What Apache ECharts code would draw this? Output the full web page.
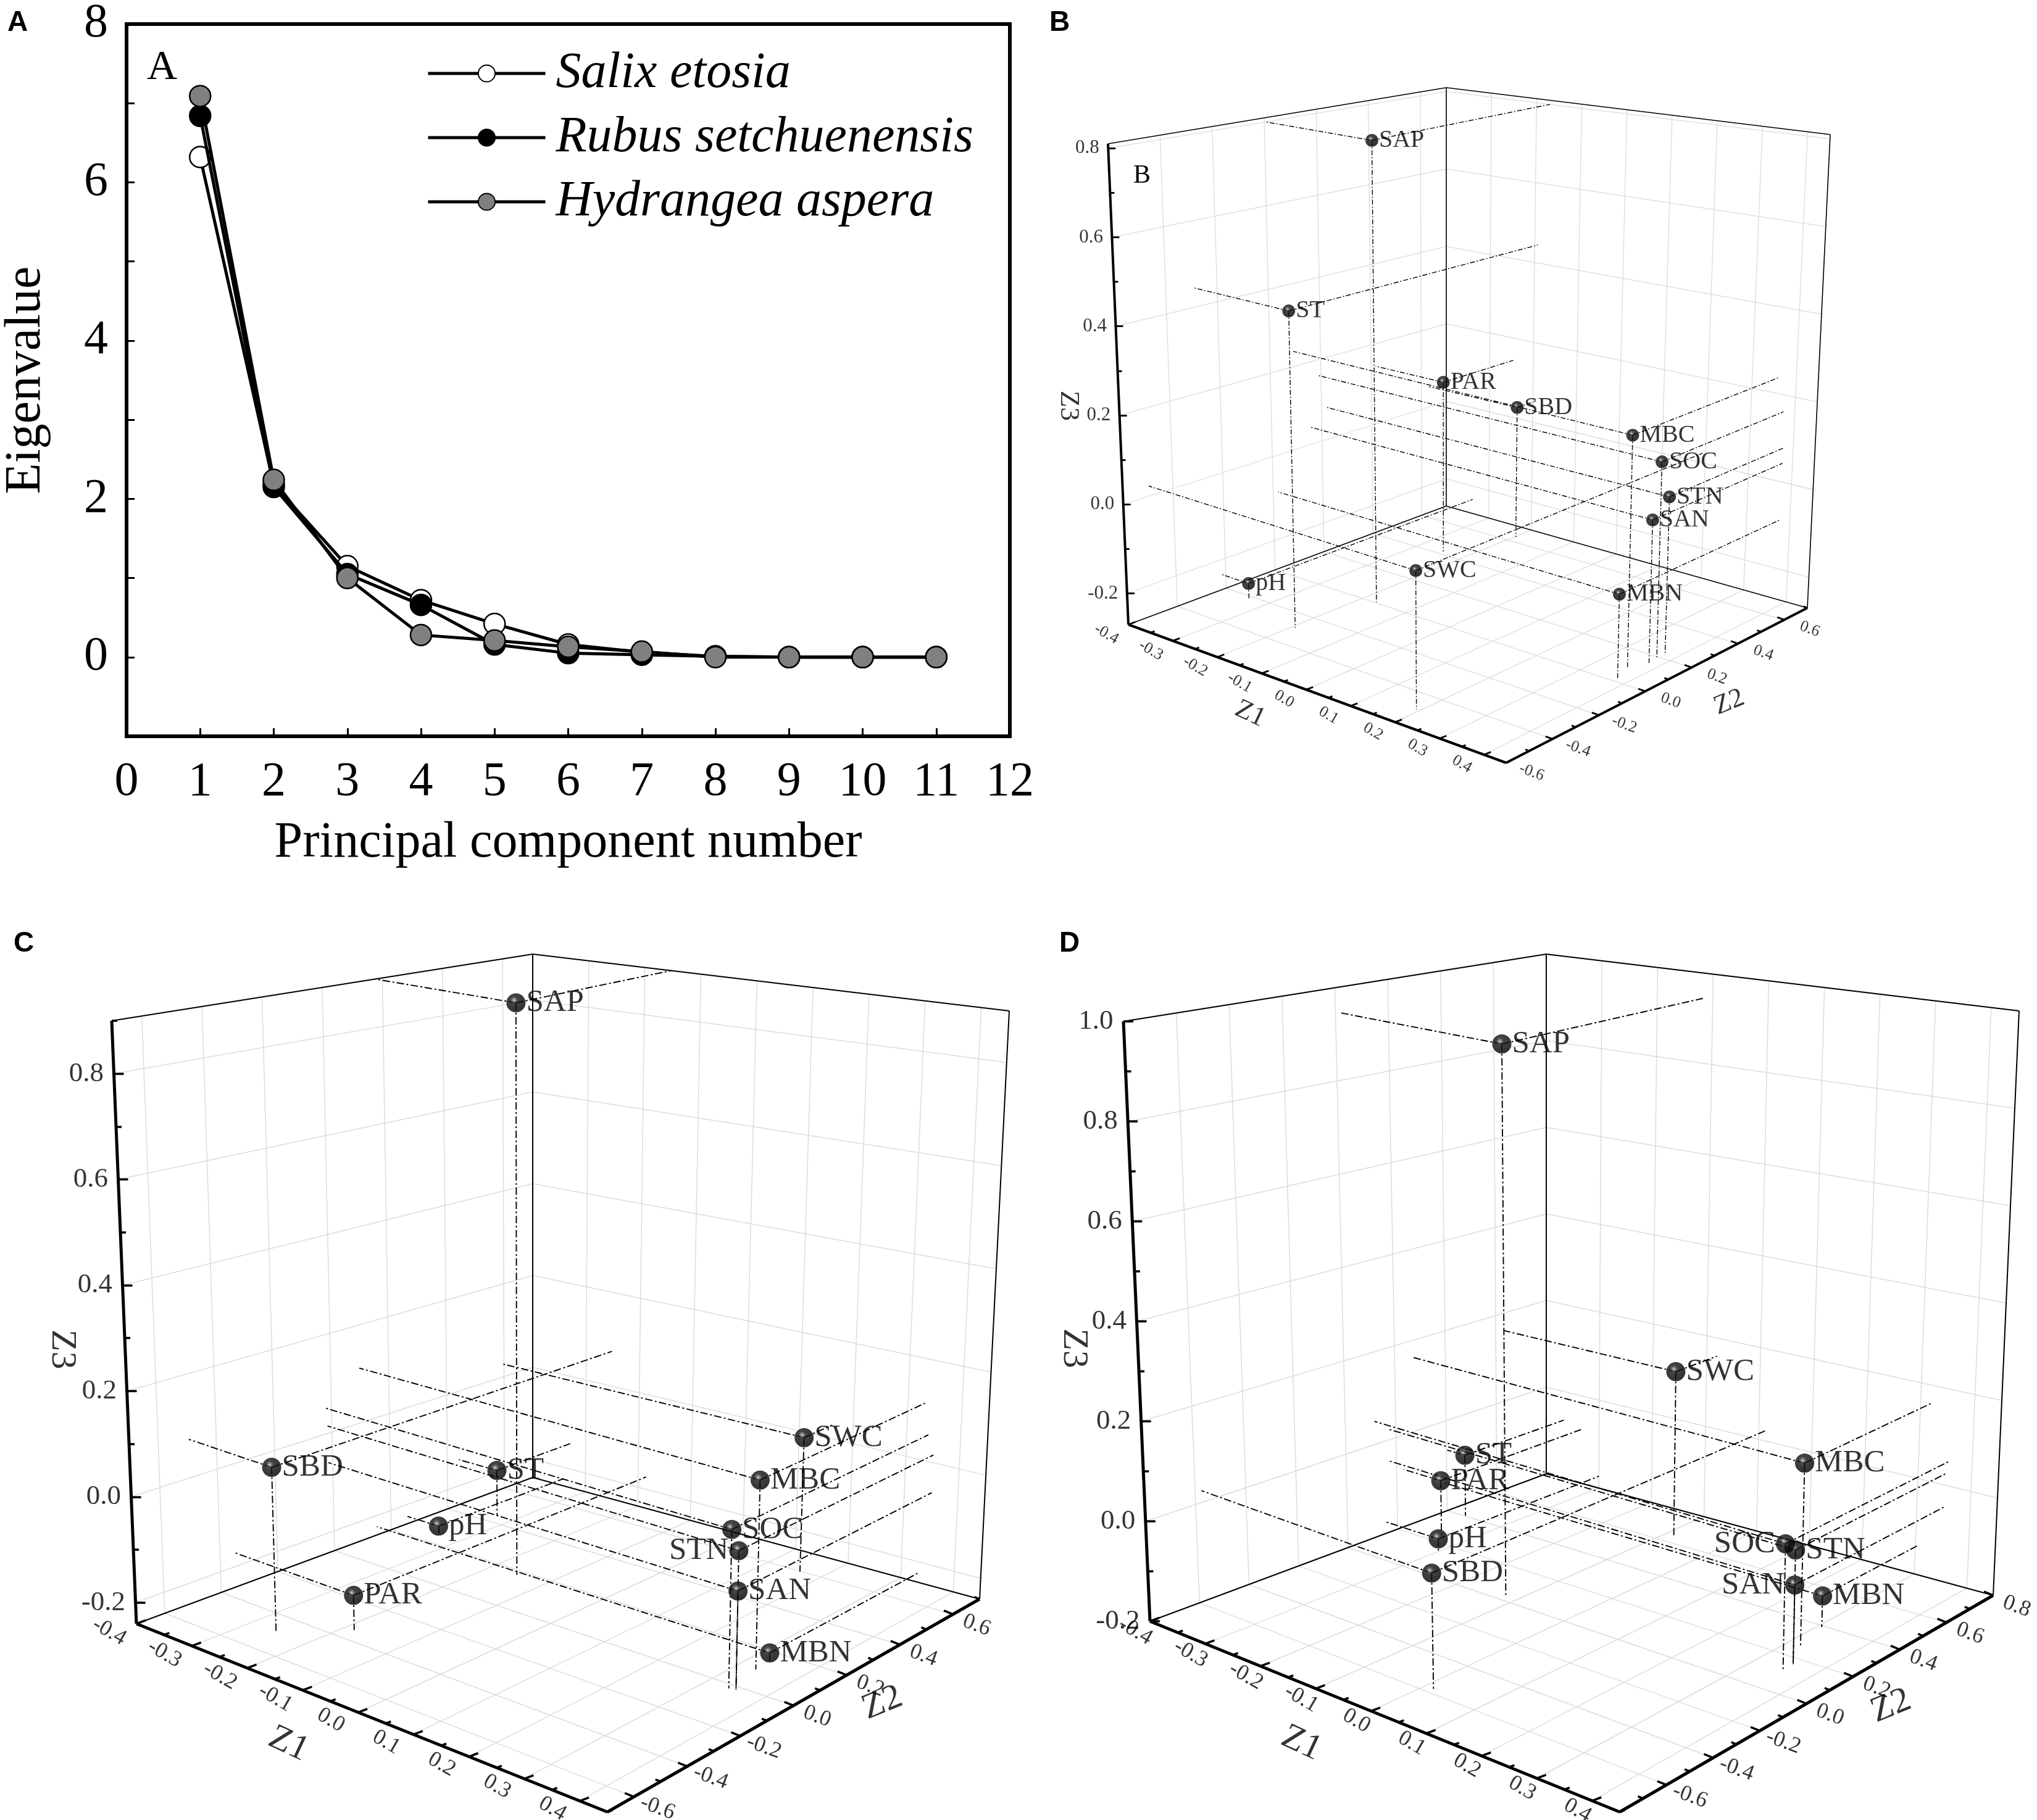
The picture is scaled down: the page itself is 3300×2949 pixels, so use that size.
<!DOCTYPE html>
<html><head><meta charset="utf-8">
<script src="https://cdn.jsdelivr.net/npm/echarts@6/dist/echarts.min.js"></script>
<style>html,body{margin:0;padding:0;background:#fff}#c{width:3300px;height:2949px}</style>
</head><body><div id="c"></div><script>
// ---------------- Panel A data ----------------
const pcNumbers = [1,2,3,4,5,6,7,8,9,10,11];
const salixEigen = [6.32, 2.18, 1.15, 0.72, 0.42, 0.16, 0.06, 0.01, 0, 0, 0];
const rubusEigen = [6.84, 2.15, 1.05, 0.66, 0.16, 0.05, 0.03, 0.01, 0, 0, 0];
const hydrangeaEigen = [7.09, 2.24, 1.00, 0.28, 0.21, 0.13, 0.07, 0.00, 0, 0, 0];
const speciesNames = ['Salix etosia','Rubus setchuenensis','Hydrangea aspera'];
const yTickLabels = ['0','2','4','6','8'];

// ---------------- Panels B-D data (loadings on Z1, Z2, Z3) ----------------
const variables = ['SAP','ST','PAR','SBD','MBC','SOC','STN','SAN','MBN','SWC','pH'];
const bZ1 = [-0.170,-0.193,-0.246,-0.197, 0.360, 0.374, 0.377, 0.377, 0.376, 0.193,-0.338];
const bZ2 = [ 0.005,-0.290, 0.418, 0.631, 0.092, 0.192, 0.222, 0.153, 0.020,-0.496,-0.218];
const bZ3 = [ 0.800, 0.445, 0.144, 0.052, 0.237, 0.161, 0.078, 0.043,-0.088, 0.023,-0.234];
const cZ1 = [-0.153,-0.329,-0.185,-0.252, 0.331, 0.340, 0.351, 0.351, 0.331, 0.161,-0.342];
const cZ2 = [ 0.176, 0.441,-0.346,-0.494, 0.099,-0.020,-0.015,-0.015, 0.150, 0.598, 0.258];
const cZ3 = [ 0.900,-0.145,-0.174, 0.074, 0.112, 0.052, 0.015,-0.059,-0.223, 0.027,-0.225];
const dZ1 = [-0.117,-0.367,-0.331, 0.015, 0.322, 0.356, 0.353, 0.353, 0.307,-0.081,-0.300];
const dZ2 = [ 0.021, 0.403, 0.228,-0.575, 0.268, 0.116, 0.166, 0.166, 0.392, 0.634, 0.148];
const dZ3 = [ 0.944,-0.066,-0.075, 0.024, 0.164, 0.050, 0.025,-0.044,-0.137, 0.160,-0.173];

const SERIF = '"Liberation Serif","Times New Roman",serif';
const SANS = '"Liberation Sans",Arial,sans-serif';

// ---------------- 3D box layouts (axis geometry, not data) ----------------
const panels3D = [
  { key:'B', z1:bZ1, z2:bZ2, z3:bZ3,
    range:{z1:[-0.4,0.45], z2:[-0.6,0.7], z3:[-0.27,0.81]},
    corners:{L:[1828,1012],F:[2440,1236],R:[2928,985],B:[2343,820],LT:[1795,233],FT:[2445,373],BT:[2343,142],RT:[2965,218]},
    leftLabels:[],
    st:{edgeW:1.6,axisW:4,gridW:1.3,dropW:1.4,dash:[8,3,2,3],tickMaj:12,tickMin:7,tickFont:31,floorFont:26,titleFont:44,
        ptSize:21,ptFont:40,z1Lab:[41,3],z2Lab:[44,0],z3LabDist:14,z2Title:[1.176,0.525],z3TitleDx:82}},
  { key:'C', z1:cZ1, z2:cZ2, z3:cZ3,
    range:{z1:[-0.4,0.45], z2:[-0.7,0.7], z3:[-0.24,0.9]},
    corners:{L:[221,2631],F:[984,2936],R:[1587,2591],B:[863,2394],LT:[181,1654],FT:[988,1854],BT:[863,1546],RT:[1635,1638]},
    leftLabels:['STN'],
    st:{edgeW:2,axisW:5,gridW:1.5,dropW:1.9,dash:[12,4,3,4],tickMaj:16,tickMin:9,tickFont:45,floorFont:36,titleFont:58,
        ptSize:31,ptFont:51,z1Lab:[42,-5],z2Lab:[44,-3],z3LabDist:16,z2Title:[1.118,0.594],z3TitleDx:103}},
  { key:'D', z1:dZ1, z2:dZ2, z3:dZ3,
    range:{z1:[-0.4,0.45], z2:[-0.8,0.8], z3:[-0.2,1.0]},
    corners:{L:[1863,2627],F:[2624,2936],R:[3229,2585],B:[2505,2388],LT:[1820,1655],FT:[2624,1858],BT:[2505,1546],RT:[3271,1638]},
    leftLabels:['SOC','SAN'],
    st:{edgeW:2,axisW:5,gridW:1.5,dropW:1.9,dash:[12,4,3,4],tickMaj:16,tickMin:9,tickFont:45,floorFont:36,titleFont:58,
        ptSize:31,ptFont:51,z1Lab:[35,10],z2Lab:[44,-3],z3LabDist:16,z2Title:[1.124,0.575],z3TitleDx:104}}
];

function tickVals(min,max,step){const out=[];for(let k=Math.ceil(min/step-1e-6);k*step<=max+1e-9;k++){out.push(Math.round(k*step*1000)/1000);}return out;}
function isMul(v,s){return Math.abs(v/s-Math.round(v/s))<1e-6;}
function fmt(v){if(Math.abs(v)<1e-9)v=0;return v.toFixed(1);}

function linesSeries(segs,color,width,type,z){
  return {type:'lines',coordinateSystem:'cartesian2d',xAxisIndex:1,yAxisIndex:1,silent:true,z:z,polyline:false,
    lineStyle:{color:color,width:width,type:type||'solid',opacity:1},data:segs.map(s=>({coords:s}))};
}
function textSeries(items,label,z){
  return {type:'scatter',xAxisIndex:1,yAxisIndex:1,silent:true,symbol:'circle',symbolSize:1,z:z||6,
    itemStyle:{color:'rgba(0,0,0,0)'},
    label:Object.assign({show:true,formatter:'{b}',color:'#000',fontFamily:SERIF},label),
    data:items.map(t=>({name:t.text,value:t.pos}))};
}

function build3D(pn){
  const c=pn.corners,r=pn.range,st=pn.st;
  const bil=(a,b,cc,d,u,v)=>[0,1].map(i=>a[i]*(1-u)*(1-v)+b[i]*u*(1-v)+cc[i]*(1-u)*v+d[i]*u*v);
  const P=(u,v,w)=>{const f=bil(c.L,c.F,c.B,c.R,u,v),t=bil(c.LT,c.FT,c.BT,c.RT,u,v);return [f[0]+(t[0]-f[0])*w,f[1]+(t[1]-f[1])*w];};
  const nu=x=>(x-r.z1[0])/(r.z1[1]-r.z1[0]), nv=x=>(x-r.z2[0])/(r.z2[1]-r.z2[0]), nw=x=>(x-r.z3[0])/(r.z3[1]-r.z3[0]);
  const unit=(a,b)=>{const dx=b[0]-a[0],dy=b[1]-a[1],l=Math.hypot(dx,dy);return [dx/l,dy/l];};
  const eu=unit(c.L,c.F), ev=unit(c.L,c.B), e2=unit(c.F,c.R);
  const add=(p,d,k)=>[p[0]+d[0]*k,p[1]+d[1]*k];
  const grid=[],edges=[],axes=[],ticks=[],drops=[];
  const z1t=tickVals(r.z1[0],r.z1[1],0.05), z2t=tickVals(r.z2[0],r.z2[1],0.1), z3t=tickVals(r.z3[0],r.z3[1],0.1);
  z2t.filter(z=>isMul(z,0.2)).forEach(z=>{const v=nv(z);grid.push([P(0,v,0),P(0,v,1)]);grid.push([P(0,v,0),P(1,v,0)]);});
  z3t.filter(z=>isMul(z,0.2)).forEach(z=>{const w=nw(z);grid.push([P(0,0,w),P(0,1,w)]);grid.push([P(0,1,w),P(1,1,w)]);});
  z1t.filter(z=>isMul(z,0.1)).forEach(z=>{const u=nu(z);grid.push([P(u,1,0),P(u,1,1)]);grid.push([P(u,0,0),P(u,1,0)]);});
  edges.push([P(0,1,0),P(0,1,1)],[P(0,0,1),P(0,1,1)],[P(0,1,1),P(1,1,1)],[P(1,1,0),P(1,1,1)],[P(0,1,0),P(0,0,0)],[P(0,1,0),P(1,1,0)]);
  axes.push([P(0,0,0),P(0,0,1)],[P(0,0,0),P(1,0,0)],[P(1,0,0),P(1,1,0)]);
  const z3L=[],z1L=[],z2L=[];
  z3t.forEach(z=>{const p=P(0,0,nw(z)),maj=isMul(z,0.2);ticks.push([p,[p[0]+(maj?st.tickMaj:st.tickMin),p[1]]]);if(maj)z3L.push({text:fmt(z),pos:p});});
  z1t.forEach(z=>{const p=P(nu(z),0,0),maj=isMul(z,0.1);ticks.push([p,add(p,ev,maj?st.tickMaj:st.tickMin)]);
    if(maj)z1L.push({text:fmt(z),pos:add(add(p,ev,-st.z1Lab[0]),eu,st.z1Lab[1])});});
  z2t.forEach(z=>{const p=P(1,nv(z),0),maj=isMul(z,0.2);ticks.push([p,add(p,eu,-(maj?st.tickMaj:st.tickMin))]);
    if(maj)z2L.push({text:fmt(z),pos:add(add(p,eu,st.z2Lab[0]),e2,st.z2Lab[1])});});
  const pts=variables.map((name,i)=>{const u=nu(pn.z1[i]),v=nv(pn.z2[i]),w=nw(pn.z3[i]);return {name,u,v,w,p:P(u,v,w)};});
  pts.forEach(q=>{drops.push([q.p,P(q.u,q.v,0)]);drops.push([q.p,P(0,q.v,q.w)]);drops.push([q.p,P(q.u,1,q.w)]);});
  const sorted=pts.slice().sort((a,b)=>(a.u-a.v)-(b.u-b.v));
  const sphere=new echarts.graphic.RadialGradient(0.4,0.36,0.6,[{offset:0,color:'#eeeeee'},{offset:0.1,color:'#777'},{offset:0.32,color:'#151515'},{offset:1,color:'#000'}]);
  const series=[
    linesSeries(grid,'#dcdcdc',st.gridW,'solid',1),
    linesSeries(edges,'#000',st.edgeW,'solid',2),
    linesSeries(axes,'#000',st.axisW,'solid',3),
    linesSeries(ticks,'#000',st.axisW*0.7,'solid',3),
    linesSeries(drops,'#000',st.dropW,st.dash,4),
    textSeries(z3L,{position:'left',distance:st.z3LabDist,fontSize:st.tickFont}),
    textSeries(z1L,{position:'inside',rotate:-30,fontSize:st.floorFont}),
    textSeries(z2L,{position:'inside',rotate:-20,fontSize:st.floorFont}),
    textSeries([{text:'Z1',pos:P(0.47,-0.18,0)}],{position:'inside',rotate:-25,fontSize:st.titleFont}),
    textSeries([{text:'Z2',pos:P(st.z2Title[0],st.z2Title[1],0)}],{position:'inside',rotate:22,fontSize:st.titleFont}),
    textSeries([{text:'Z3',pos:add(P(0,0,0.455),[1,0],-st.z3TitleDx)}],{position:'inside',rotate:-90,fontSize:st.titleFont}),
    {type:'scatter',xAxisIndex:1,yAxisIndex:1,silent:true,z:8,symbol:'circle',symbolSize:st.ptSize,
      itemStyle:{color:sphere},
      label:{show:true,formatter:'{b}',color:'#000',fontFamily:SERIF,fontSize:st.ptFont,distance:1},
      data:sorted.map(q=>({name:q.name,value:q.p,label:{position:pn.leftLabels.indexOf(q.name)>=0?'left':'right'}}))}
  ];
  return series;
}

const chart=echarts.init(document.getElementById('c'),null,{width:3300,height:2949});
let series3D=[];panels3D.forEach(p=>{series3D=series3D.concat(build3D(p));});

const markerColors=['#ffffff','#000000','#808080'];
const eigenSets=[salixEigen,rubusEigen,hydrangeaEigen];
const seriesA=speciesNames.map((nm,k)=>({
  name:nm,type:'line',xAxisIndex:0,yAxisIndex:0,symbol:'circle',symbolSize:34,showAllSymbol:true,z:3+k,
  lineStyle:{color:'#000',width:5},itemStyle:{color:markerColors[k],borderColor:'#000',borderWidth:2.5},
  data:pcNumbers.map((x,i)=>[x,eigenSets[k][i]])
}));

chart.setOption({
  animation:false,
  backgroundColor:'#fff',
  grid:[
    {left:204,top:36,width:1432,height:1157,show:true,borderColor:'#000',borderWidth:6,containLabel:false},
    {left:0,top:0,width:3300,height:2949,show:false}
  ],
  xAxis:[
    {type:'value',gridIndex:0,min:0,max:12,interval:1,
      axisLine:{show:true,onZero:false,lineStyle:{color:'#000',width:6}},
      axisTick:{show:true,inside:true,length:13,lineStyle:{color:'#000',width:3}},
      axisLabel:{color:'#000',fontSize:78,fontFamily:SERIF,margin:36},
      splitLine:{show:false},
      name:'Principal component number',nameLocation:'middle',nameGap:132,
      nameTextStyle:{color:'#000',fontSize:82,fontFamily:SERIF}},
    {type:'value',gridIndex:1,min:0,max:3300,show:false}
  ],
  yAxis:[
    {type:'value',gridIndex:0,min:-1,max:8,interval:1,
      axisLine:{show:true,onZero:false,lineStyle:{color:'#000',width:6}},
      axisTick:{show:true,inside:true,length:13,lineStyle:{color:'#000',width:3}},
      axisLabel:{color:'#000',fontSize:78,fontFamily:SERIF,margin:30,
        formatter:v=>yTickLabels.indexOf(String(v))>=0?String(v):''},
      splitLine:{show:false},
      name:'Eigenvalue',nameLocation:'middle',nameGap:122,nameRotate:90,
      nameTextStyle:{color:'#000',fontSize:82,fontFamily:SERIF}},
    {type:'value',gridIndex:1,min:0,max:2949,inverse:true,show:false}
  ],
  legend:{show:true,orient:'vertical',left:691,top:74,padding:0,itemGap:14,itemWidth:190,itemHeight:34,
    data:speciesNames,
    lineStyle:{width:5,color:'#000'},
    textStyle:{color:'#000',fontSize:82,fontStyle:'italic',fontFamily:SERIF,lineHeight:90,padding:[0,0,0,12]}},
  graphic:[
    {type:'text',left:12,top:14,style:{text:'A',font:'bold 46px '+SANS,fill:'#000'}},
    {type:'text',left:1700,top:14,style:{text:'B',font:'bold 46px '+SANS,fill:'#000'}},
    {type:'text',left:22,top:1506,style:{text:'C',font:'bold 46px '+SANS,fill:'#000'}},
    {type:'text',left:1716,top:1506,style:{text:'D',font:'bold 46px '+SANS,fill:'#000'}},
    {type:'text',left:238,top:76,style:{text:'A',font:'68px '+SERIF,fill:'#000'}},
    {type:'text',left:1836,top:264,style:{text:'B',font:'42px '+SERIF,fill:'#000'}}
  ],
  series:seriesA.concat(series3D)
});
</script></body></html>
